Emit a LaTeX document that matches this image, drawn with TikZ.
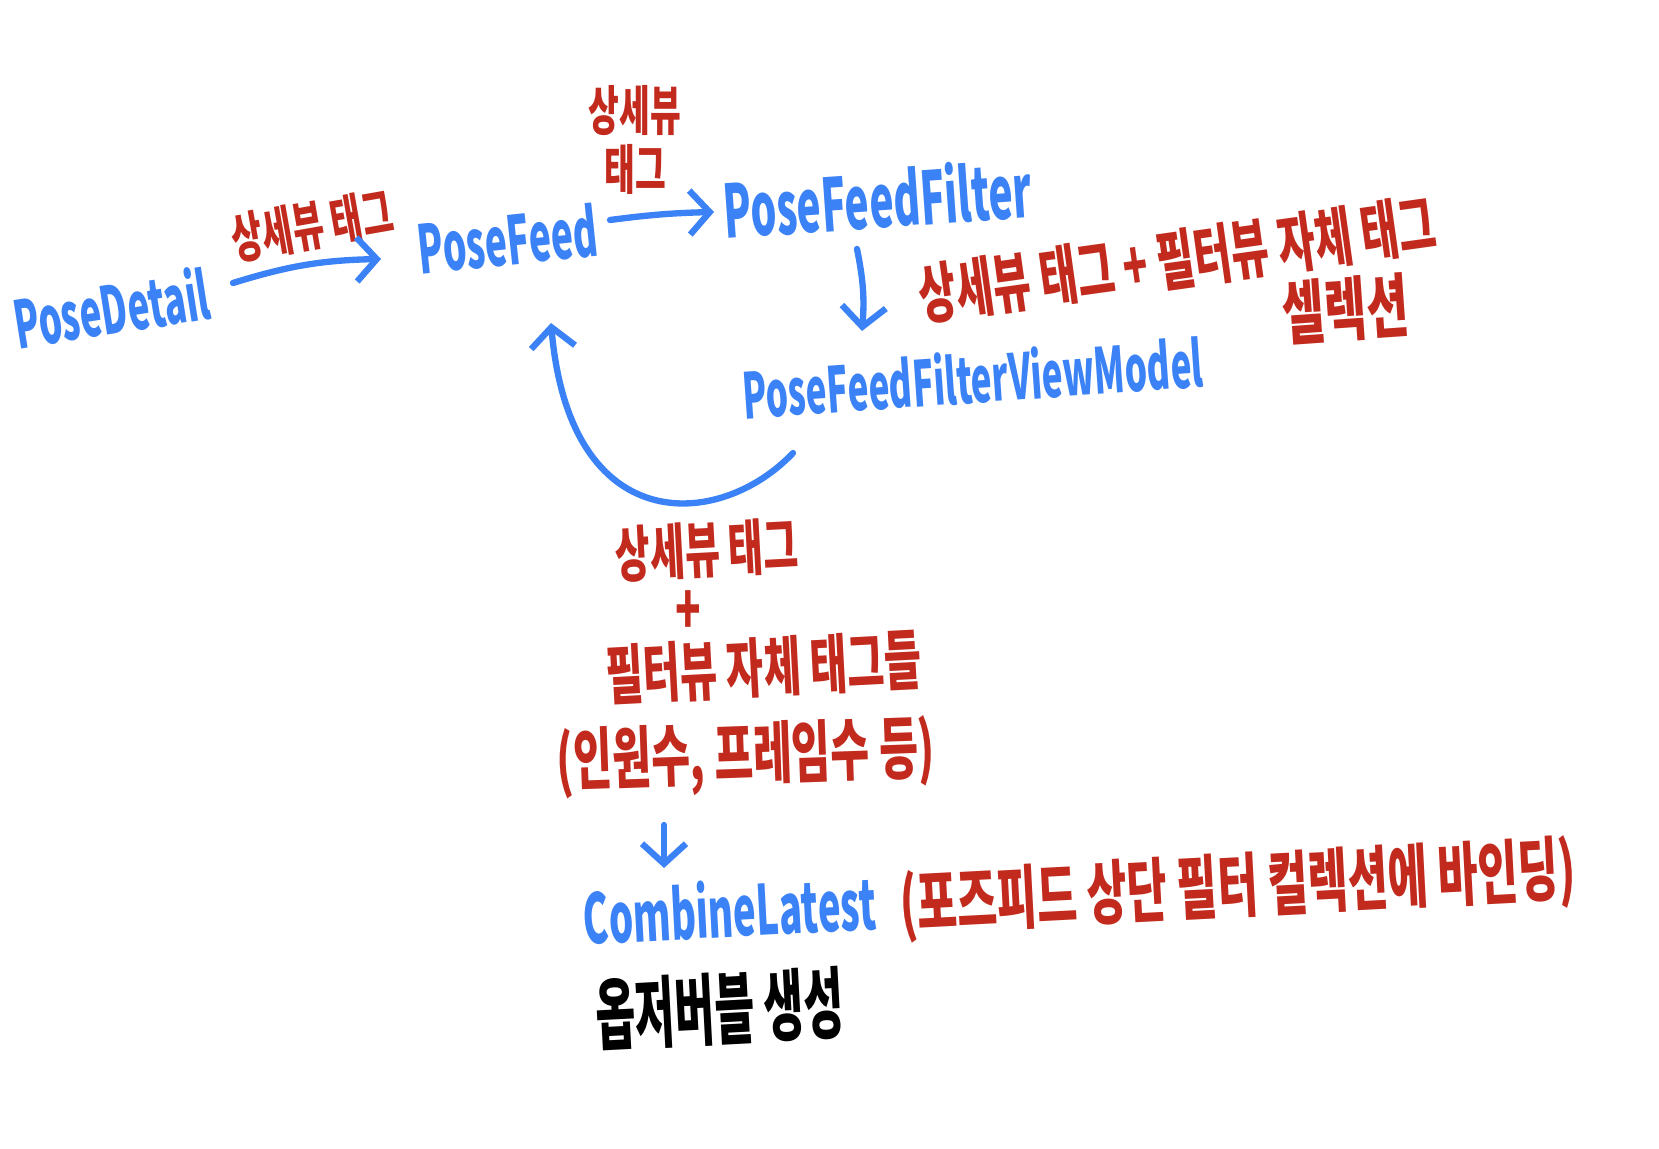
\documentclass[tikz,border=0pt]{standalone}
\usepackage{fontspec}
\setmainfont{Noto Sans CJK KR}
\usetikzlibrary{arrows.meta,calc}
\definecolor{penblue}{RGB}{59,130,246}
\definecolor{penred}{RGB}{194,42,30}
\tikzset{
	ink/.style={inner sep=0pt, text height=0.8em, text depth=0.1em, transform shape, font=\bfseries\fontsize{#1}{#1}\selectfont},
	blueink/.style={ink=#1, text=penblue, yscale=1.8},
	blueink/.default=11,
	redink/.style={ink=#1, text=penred, yscale=1.6},
	redink/.default=11,
	arr/.style={draw=penblue, line width=1.8pt, line cap=round, line join=round,
		-{Straight Barb[length=2mm, width=4.4mm, line width=1.8pt]}}
}

\begin{document}
\begin{tikzpicture}[x=0.1mm, y=-0.1mm]
			%%%%% START %%%%%
			\useasboundingbox (0,0) rectangle (1659,1149);
			
			\node[rotate=9, blueink=10.4] (detail) at (112,312) {PoseDetail};
			\node[rotate=10, redink=9.6] (tagA) at (312,226) {상세뷰 태그};
			\node[rotate=6, blueink=10.6] (feed) at (508,243) {PoseFeed};
			\node[redink=9.5, text height=, text depth=, align=center, font=\bfseries\fontsize{9.5}{10.5}\selectfont] (tagB) at (635,140) {상세뷰\\태그};
			\node[rotate=4, blueink=11.6] (filter) at (878,206) {PoseFeedFilter};
			\node[rotate=8, redink=11.6] (pick) at (1178,264) {상세뷰 태그 + 필터뷰 자체 태그};
			\node[rotate=4, redink=13, yscale=0.95] (pickB) at (1346,316) {셀렉션};
			\node[rotate=4, blueink=10] (vm) at (973,381) {PoseFeedFilterViewModel};
			
			\node[rotate=3, redink=10.8] (sumA) at (707,553) {상세뷰 태그};
			\node[redink=12, text height=0.6em, text depth=0em] (sumB) at (688,618) {+};
			\node[rotate=3, redink=11.5] (sumC) at (764,672) {필터뷰 자체 태그들};
			\node[rotate=2, redink=12] (sumD) at (746,759) {(인원수, 프레임수 등)};
			
			\node[rotate=3, blueink=10.9] (combine) at (730,915) {CombineLatest};
			\node[rotate=3, redink=12.4] (bind) at (1238,892) {(포즈피드 상단 필터 컬렉션에 바인딩)};
			\node[rotate=3, ink=12.3, yscale=1.8] (obs) at (720,1016) {옵저버블 생성};
			
			% arrows
			\draw[arr] ([shift={(121,-29)}]detail.center) to[bend left=8] ([shift={(-127,16)}]feed.center);
			\draw[arr] ([shift={(102,-23)}]feed.center) to[bend left=3] ([shift={(-164,6)}]filter.center);
			\draw[arr] ([shift={(-21,43)}]filter.center) to[bend left=8] ([shift={(-111,-50)}]vm.center);
			
			\coordinate (back0) at ([shift={(-180,72)}]vm.center);
			\coordinate (back1) at ([shift={(43,80)}]feed.center);
			\draw[arr] (back0) .. controls ($(back0)+(-73,77)$) and ($(back1)+(19,217)$) .. (back1);
			
			\draw[arr] ([shift={(-82,66)}]sumD.center) -- ([shift={(-66,-47)}]combine.center);
			%%%%% END %%%%%
\end{tikzpicture}
\end{document}
